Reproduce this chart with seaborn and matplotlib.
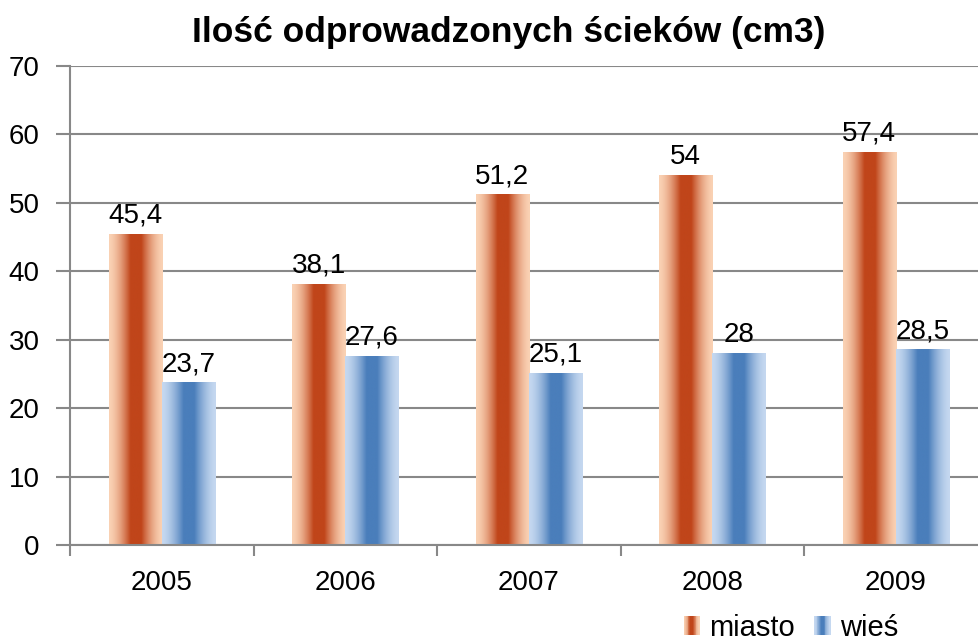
import numpy as np
import pandas as pd
import matplotlib
matplotlib.use("Agg")
import matplotlib.pyplot as plt
import seaborn as sns
from matplotlib.legend_handler import HandlerBase
from matplotlib.patches import Rectangle

years = ["2005", "2006", "2007", "2008", "2009"]
miasto = [45.4, 38.1, 51.2, 54, 57.4]
wies = [23.7, 27.6, 25.1, 28, 28.5]
series = ["miasto", "wieś"]
value_labels_miasto = ["45,4", "38,1", "51,2", "54", "57,4"]
value_labels_wies = ["23,7", "27,6", "25,1", "28", "28,5"]
title = "Ilość odprowadzonych ścieków (cm3)"

light = {"miasto": np.array([250, 210, 180]) / 255, "wieś": np.array([197, 216, 240]) / 255}
dark = {"miasto": np.array([192, 69, 26]) / 255, "wieś": np.array([74, 126, 187]) / 255}

df = pd.DataFrame({
    "rok": years * 2,
    "wartosc": miasto + wies,
    "typ": [series[0]] * len(years) + [series[1]] * len(years),
})

sns.set_style("white")
plt.rcParams["font.family"] = ["Liberation Sans", "DejaVu Sans"]
plt.rcParams["text.color"] = "black"
plt.rcParams["xtick.labelcolor"] = "black"
plt.rcParams["ytick.labelcolor"] = "black"

fig = plt.figure(figsize=(9.79, 6.41), dpi=100)
ax = fig.add_axes([70 / 979, 96 / 641, 917.5 / 979, 479 / 641])

palette = {s: tuple(dark[s]) for s in series}
sns.barplot(data=df, x="rok", y="wartosc", hue="typ", palette=palette,
            width=0.578, ax=ax, legend=False, errorbar=None, saturation=1)


def grad_colors(s, n=200):
    x = np.linspace(0, 1, n)
    t = 1 - np.abs(2 * x - 1)
    t = np.clip(t * 1.25, 0, 1) ** 1.6
    return light[s][None, :] * (1 - t[:, None]) + dark[s][None, :] * t[:, None]


for cont, s, labs in zip(ax.containers, series, [value_labels_miasto, value_labels_wies]):
    img = grad_colors(s)[None, :, :]
    for p in cont.patches:
        x0, w, h = p.get_x(), p.get_width(), p.get_height()
        ax.imshow(img, extent=(x0, x0 + w, 0, h), aspect="auto",
                  interpolation="bilinear", zorder=2)
        p.set_facecolor("none")
        p.set_edgecolor("none")
    ax.bar_label(cont, labels=labs, padding=4, fontsize=20, color="black")

ax.set_xlim(-0.5, 4.5)
ax.set_ylim(0, 70)
ax.set_yticks(range(0, 71, 10))
ax.set_xticks(np.arange(len(years)))
ax.set_xticklabels(years)
ax.set_xlabel("")
ax.set_ylabel("")

grid_color = "#888888"
ax.yaxis.grid(True, color=grid_color, linewidth=1.5, zorder=0)
ax.set_axisbelow(True)
for side in ["top", "right"]:
    ax.spines[side].set_visible(False)
for side in ["left", "bottom"]:
    ax.spines[side].set_color(grid_color)
    ax.spines[side].set_linewidth(1.5)

ax.tick_params(axis="y", which="major", length=10, width=1.5, color=grid_color,
               direction="out", pad=12, labelsize=20, left=True, labelcolor="black")
ax.tick_params(axis="x", which="major", length=0, pad=18, labelsize=20, labelcolor="black")
ax.set_xticks(np.arange(-0.5, 4.6, 1.0), minor=True)
ax.tick_params(axis="x", which="minor", length=8, width=1.5, color=grid_color,
               direction="out", bottom=True)

fig.text(509 / 979, 1 - 42 / 641, title, ha="center", va="baseline",
         fontsize=25.5, fontweight="bold", color="black")


class GradHandler(HandlerBase):
    def create_artists(self, legend, orig_handle, xdescent, ydescent,
                       width, height, fontsize, trans):
        s = orig_handle.get_label()
        cols = grad_colors(s, 20)
        arts = []
        n = len(cols)
        for i, c in enumerate(cols):
            r = Rectangle((-xdescent + i * width / n, -ydescent), width / n + 0.3, height,
                          facecolor=c, edgecolor="none", transform=trans)
            arts.append(r)
        return arts


handles = [Rectangle((0, 0), 1, 1, label=s) for s in series]
leg = fig.legend(handles=handles, labels=series, handler_map={Rectangle: GradHandler()},
                 loc="center", bbox_to_anchor=(791 / 979, 1 - 628 / 641), ncol=2,
                 frameon=False, fontsize=21, handlelength=0.55, handleheight=0.6,
                 handletextpad=0.34, columnspacing=0.65, borderpad=0)
for t in leg.get_texts():
    t.set_color("black")

fig.savefig("out.png", dpi=100)
